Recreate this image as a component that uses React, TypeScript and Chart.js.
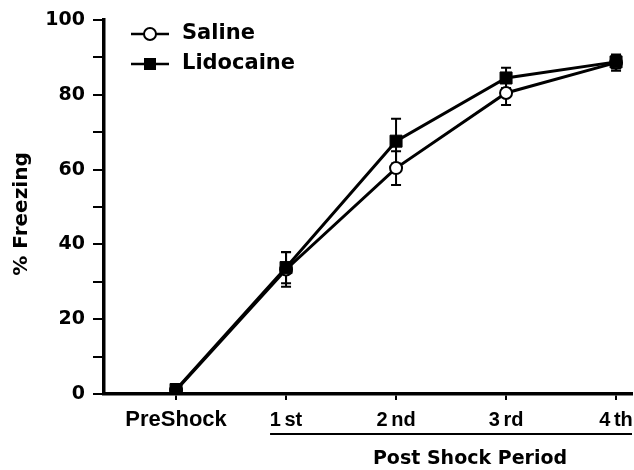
import React, { useEffect, useRef } from "react";
import { Chart, registerables } from "chart.js";

Chart.register(...registerables);

const categories = ["PreShock", "1 st", "2 nd", "3 rd", "4 th"];
const positions = [0, 1, 2, 3, 4];
const salineValues = [1, 33.3, 60.4, 80.5, 88.6];
const salineErr = [0, 4.6, 4.5, 3.2, 2.2];
const lidocaineValues = [1.2, 33.8, 67.6, 84.5, 88.8];
const lidocaineErr = [0, 4.2, 6.0, 2.7, 1.8];
const yTicks = [0, 20, 40, 60, 80, 100];

const FONT = "'DejaVu Sans', sans-serif";
const XFONT = "'Liberation Sans', Arial, sans-serif";

const errorBarPlugin = {
  id: "errorBars",
  beforeDatasetsDraw(chart: any) {
    const ctx = chart.ctx;
    const xs = chart.scales.x;
    const ys = chart.scales.y;
    const sets = [
      { v: salineValues, e: salineErr },
      { v: lidocaineValues, e: lidocaineErr },
    ];
    ctx.save();
    ctx.strokeStyle = "#000";
    ctx.lineWidth = 2;
    for (const s of sets) {
      s.v.forEach((v, i) => {
        const err = s.e[i];
        if (!err) return;
        const x = xs.getPixelForValue(positions[i]);
        const yt = ys.getPixelForValue(v + err);
        const yb = ys.getPixelForValue(v - err);
        ctx.beginPath();
        ctx.moveTo(x, yt);
        ctx.lineTo(x, yb);
        ctx.moveTo(x - 5, yt);
        ctx.lineTo(x + 5, yt);
        ctx.moveTo(x - 5, yb);
        ctx.lineTo(x + 5, yb);
        ctx.stroke();
      });
    }
    ctx.restore();
  },
};

const decorPlugin = {
  id: "decor",
  afterDraw(chart: any) {
    const ctx = chart.ctx;
    const xs = chart.scales.x;
    const area = chart.chartArea;
    ctx.save();
    ctx.fillStyle = "#000";
    ctx.strokeStyle = "#000";
    // x category labels
    categories.forEach((c, i) => {
      const x = xs.getPixelForValue(positions[i]);
      ctx.font = i === 0 ? `bold 22px ${XFONT}` : `bold 20px ${XFONT}`;
      (ctx as any).wordSpacing = "-2px";
      ctx.textAlign = "center";
      ctx.textBaseline = "alphabetic";
      ctx.fillText(c, x, 426);
    });
    (ctx as any).wordSpacing = "0px";
    // y title
    ctx.save();
    ctx.translate(22, (area.top + area.bottom) / 2 + 7);
    ctx.rotate(-Math.PI / 2);
    ctx.font = `bold 20px ${FONT}`;
    ctx.textAlign = "center";
    ctx.textBaseline = "middle";
    ctx.fillText("% Freezing", 0, 0);
    ctx.restore();
    // underline for post shock
    const x1 = xs.getPixelForValue(positions[1]) - 16;
    ctx.lineWidth = 2;
    ctx.beginPath();
    ctx.moveTo(x1, 434);
    ctx.lineTo(area.right, 434);
    ctx.stroke();
    // x title
    ctx.font = `bold 19px ${FONT}`;
    ctx.textAlign = "center";
    ctx.textBaseline = "middle";
    ctx.fillText("Post Shock Period", 470, 459);
    // legend
    ctx.lineWidth = 2.5;
    const rows = [
      { label: "Saline", y: 34, square: false },
      { label: "Lidocaine", y: 64, square: true },
    ];
    for (const r of rows) {
      ctx.beginPath();
      ctx.moveTo(131, r.y);
      ctx.lineTo(169, r.y);
      ctx.stroke();
      if (r.square) {
        ctx.fillStyle = "#000";
        ctx.fillRect(144, r.y - 6, 12, 12);
      } else {
        ctx.beginPath();
        ctx.arc(150, r.y, 6, 0, Math.PI * 2);
        ctx.fillStyle = "#fff";
        ctx.fill();
        ctx.lineWidth = 2;
        ctx.stroke();
        ctx.lineWidth = 2.5;
      }
      ctx.fillStyle = "#000";
      ctx.font = `bold 21px ${FONT}`;
      ctx.textAlign = "left";
      ctx.textBaseline = "middle";
      ctx.fillText(r.label, 182, r.y);
    }
    ctx.restore();
  },
};

export default function App() {
  const ref = useRef<HTMLCanvasElement | null>(null);
  useEffect(() => {
    if (!ref.current) return;
    const chart = new Chart(ref.current, {
      type: "line",
      data: {
        datasets: [
          {
            label: "Saline",
            data: positions.map((x, i) => ({ x, y: salineValues[i] })),
            borderColor: "#000",
            borderWidth: 3,
            pointStyle: "circle",
            pointRadius: 6,
            pointBackgroundColor: "#fff",
            pointBorderColor: "#000",
            pointBorderWidth: 2,
            order: 1,
          },
          {
            label: "Lidocaine",
            data: positions.map((x, i) => ({ x, y: lidocaineValues[i] })),
            borderColor: "#000",
            borderWidth: 3,
            pointStyle: "rect",
            pointRadius: 8.5,
            pointBackgroundColor: "#000",
            pointBorderColor: "#000",
            pointBorderWidth: 1,
            order: 0,
          },
        ],
      },
      options: {
        animation: false,
        responsive: false,
        maintainAspectRatio: false,
        layout: { autoPadding: false, padding: { left: 0, top: 20, right: 2, bottom: 0 } },
        plugins: { legend: { display: false }, tooltip: { enabled: false } },
        scales: {
          x: {
            type: "linear",
            min: -0.655,
            max: 4.145,
            afterBuildTicks: (s: any) => {
              s.ticks = positions.map((v) => ({ value: v }));
            },
            afterFit: (s: any) => {
              s.height = 76;
              s.paddingLeft = 0;
              s.paddingRight = 0;
            },
            border: { color: "#000", width: 3.5 },
            grid: {
              drawOnChartArea: false,
              drawTicks: true,
              tickLength: 6,
              color: "#000",
              lineWidth: 2,
            },
            ticks: {
              color: "#000",
              font: { family: XFONT, size: 18, weight: "bold" },
              padding: 8,
              maxRotation: 0,
              autoSkip: false,
              callback: () => "",
            },
          },
          y: {
            min: 0,
            max: 100,
            afterBuildTicks: (s: any) => {
              const t = [];
              for (let v = 0; v <= 100; v += 10) t.push({ value: v });
              s.ticks = t;
            },
            afterFit: (s: any) => {
              s.width = 104;
              s.paddingTop = 0;
              s.paddingBottom = 0;
            },
            border: { color: "#000", width: 3.5 },
            grid: {
              drawOnChartArea: false,
              drawTicks: true,
              tickLength: 11,
              color: "#000",
              lineWidth: 2,
            },
            ticks: {
              color: "#000",
              font: { family: FONT, size: 19, weight: "bold" },
              padding: 8,
              autoSkip: false,
              callback: (v: any) => (yTicks.includes(Number(v)) ? String(v) : ""),
            },
          },
        },
      },
      plugins: [errorBarPlugin, decorPlugin],
    });
    return () => chart.destroy();
  }, []);
  return (
    <div style={{ position: "fixed", left: 0, top: 0, width: 634, height: 470, background: "#fff" }}>
      <canvas ref={ref} width={634} height={470} style={{ width: 634, height: 470 }} />
    </div>
  );
}
